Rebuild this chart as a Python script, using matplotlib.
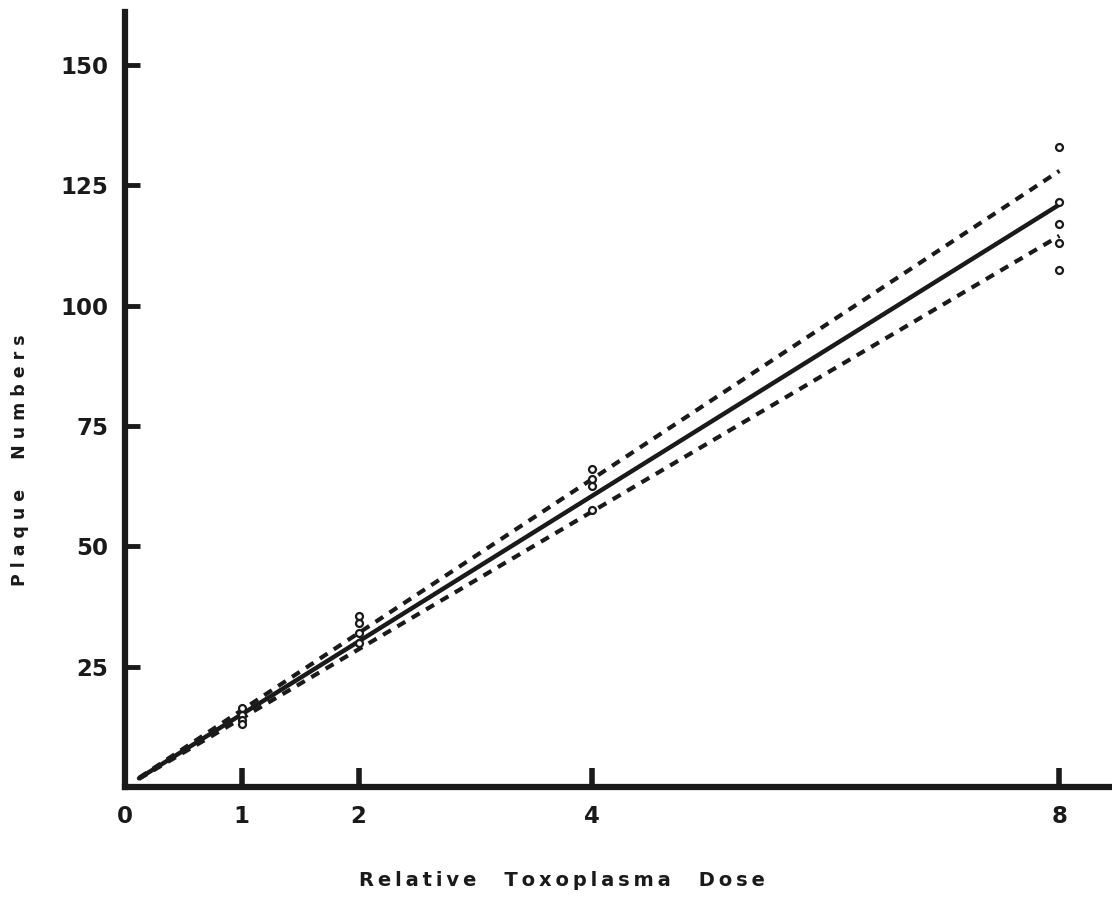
import matplotlib.pyplot as plt

# relative dose and plaque counts
dose_1 = [1, 1, 1, 1]
plaques_1 = [16.5, 15, 14, 13]
dose_2 = [2, 2, 2, 2]
plaques_2 = [35.5, 34, 32, 30]
dose_4 = [4, 4, 4, 4]
plaques_4 = [66, 64, 62.5, 57.5]
dose_8 = [8, 8, 8, 8, 8]
plaques_8 = [133, 121.5, 117, 113, 107.5]

# regression line and limits (start, end)
fit_x = [0.12, 8]
fit_y = [1.8, 121]
upper_y = [1.9, 128]
lower_y = [1.7, 114.5]

x_ticks = [0, 1, 2, 4, 8]
y_ticks = [25, 50, 75, 100, 125, 150]


def spaced(words, sep, gap):
    # typed labels have wide letter spacing
    return gap.join(sep.join(w) for w in words)


fig = plt.figure(figsize=(11.12, 8.98), dpi=100)
ax = fig.add_axes([0.1124, 0.1236, 0.8876, 0.863])

ink = '#1a1a1a'

ax.plot(fit_x, fit_y, color=ink, lw=3.2, solid_capstyle='round')
ax.plot(fit_x, upper_y, color=ink, lw=3, linestyle=(0, (2.2, 1.8)))
ax.plot(fit_x, lower_y, color=ink, lw=3, linestyle=(0, (2.2, 1.8)))

for xs, ys in [(dose_1, plaques_1), (dose_2, plaques_2),
               (dose_4, plaques_4), (dose_8, plaques_8)]:
    ax.plot(xs, ys, 'o', ms=5, mfc='white', mec=ink, mew=1.6, linestyle='none')

ax.set_xlim(0, 8.45)
ax.set_ylim(0, 161)

for side in ['top', 'right']:
    ax.spines[side].set_visible(False)
for side in ['left', 'bottom']:
    ax.spines[side].set_linewidth(4.5)
    ax.spines[side].set_color(ink)

ax.set_xticks(x_ticks)
ax.set_xticklabels([str(v) for v in x_ticks])
ax.set_yticks(y_ticks)
ax.set_yticklabels([str(v) for v in y_ticks])
ax.tick_params(axis='x', direction='in', length=14, width=4, color=ink, pad=13)
ax.tick_params(axis='y', direction='in', length=11, width=3.5, color=ink, pad=12)
ax.xaxis.get_major_ticks()[0].tick1line.set_visible(False)

for lab in ax.get_xticklabels() + ax.get_yticklabels():
    lab.set_fontsize(16.5)
    lab.set_fontweight('bold')
    lab.set_color(ink)

fig.text(0.505, 0.02, spaced(['Relative', 'Toxoplasma', 'Dose'], '\u2009', '\u2009   \u2009'),
         ha='center', va='center', fontsize=14, fontweight='bold', color=ink)
fig.text(0.018, 0.487, spaced(['Plaque', 'Numbers'], ' ', '     '),
         ha='center', va='center', rotation=90, fontsize=12.5, fontweight='bold', color=ink)

fig.savefig('out.png', dpi=100)
